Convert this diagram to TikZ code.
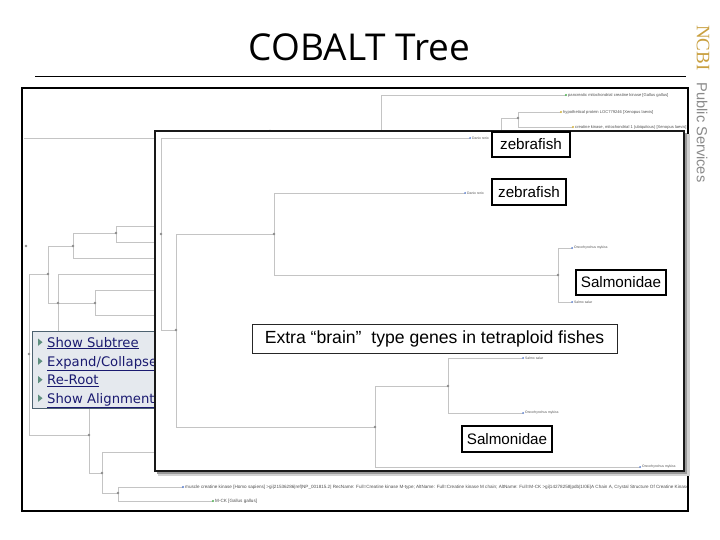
\documentclass[tikz,border=0pt]{standalone}
\usepackage{fontspec}
\setmainfont{Liberation Sans}
\newfontfamily\titlefont{Open Sans}
\newfontfamily\menufont{DejaVu Sans}
\newfontfamily\serifnc{Liberation Serif}
\newfontfamily\arialish{Liberation Sans}
\definecolor{treegray}{HTML}{C4C4C4}
\definecolor{dotgray}{HTML}{8C8C8C}
\definecolor{labgray}{HTML}{505050}
\definecolor{fishblue}{HTML}{5B7FD0}
\definecolor{galgreen}{HTML}{4CAF50}
\definecolor{xenyellow}{HTML}{D4B43C}
\definecolor{menubg}{HTML}{E5E9EE}
\definecolor{menuborder}{HTML}{4D6270}
\definecolor{menublue}{HTML}{1A1A70}
\definecolor{menutri}{HTML}{5F8F7F}
\definecolor{ncbigold}{HTML}{C9A040}
\definecolor{psgray}{HTML}{8A8A8A}
\begin{document}
\begin{tikzpicture}[x=1pt,y=-1pt,
  tline/.style={draw=treegray, line width=0.7pt},
  tnode/.style={circle, fill=dotgray, inner sep=0pt, minimum size=2.6pt},
  leafdot/.style={circle, fill=#1, inner sep=0pt, minimum size=2.4pt},
  leaflab/.style={anchor=west, inner sep=0pt, xshift=2pt, text=labgray, font=\arialish\fontsize{4.1}{5}\selectfont},
  innerlab/.style={anchor=west, inner sep=0pt, xshift=2pt, text=labgray, font=\arialish\fontsize{3.4}{4}\selectfont},
  callout/.style={draw=black, line width=1.6pt, fill=white, inner sep=0pt, align=center, font=\arialish\fontsize{15.2}{17}\selectfont},
  menuitem/.style={anchor=base west, inner sep=0pt, text=menublue, font=\menufont\fontsize{13.2}{15}\selectfont}
]
\useasboundingbox (0,0) rectangle (720,540);
\fill[white] (0,0) rectangle (720,540);

% ---------- title and side banner ----------
\node[inner sep=0pt, font=\titlefont\fontsize{37}{40}\selectfont] (title) at (359.5,47) {COBALT Tree};
\coordinate (ruleL) at (35,77);
\coordinate (ruleR) at (686,77);
\draw[line width=1pt] (ruleL) -- (ruleR);
\node[rotate=-90, anchor=west, inner sep=0pt] (ncbi) at (703,25)
  {{\serifnc\fontsize{19}{21}\selectfont\color{ncbigold}NCBI}\hspace{12pt}{\arialish\fontsize{14.6}{18}\selectfont\color{psgray}Public Services}};

% ---------- background tree (screenshot) ----------
\begin{scope}
\clip (22,88) rectangle (688,511);
% top right part
\coordinate (bT) at (381,200);
\coordinate (g1) at (566,95);
\coordinate (bX0) at (501,200);
\coordinate (bX) at (518,118);
\coordinate (x1) at (561,112);
\coordinate (x2) at (573,127);
\draw[tline] (bT) |- (g1);
\draw[tline] (bX0) |- (bX);
\draw[tline] (bX) |- (x1);
\draw[tline] (bX) |- (x2);
\coordinate (bS0) at (187,131);
\coordinate (bS1) at (270,131);
\draw[tline] (bS0) -- (bS1);
% left part
\coordinate (bH0) at (24,138);
\coordinate (bH1) at (300,138);
\draw[tline] (bH0) -- (bH1);
\coordinate (bR) at (26,246);
\coordinate (A) at (29,354);
\coordinate (B) at (48,274);
\coordinate (C) at (73,246);
\coordinate (D) at (116,233);
\coordinate (E) at (58,303);
\coordinate (F) at (95,303);
\coordinate (G) at (89,435);
\coordinate (H) at (102,473);
\coordinate (I) at (118,493);
\coordinate (d1) at (300,226);
\coordinate (d2) at (300,242);
\coordinate (c2) at (300,258);
\coordinate (e1) at (300,274);
\coordinate (e2) at (300,345);
\coordinate (f1b) at (300,290);
\coordinate (f2b) at (300,315);
\coordinate (g0) at (300,397);
\coordinate (h1) at (300,452);
\coordinate (m1) at (183,487);
\coordinate (m2) at (213,501);
\draw[tline] (A) |- (B);
\draw[tline] (A) |- (G);
\draw[tline] (B) |- (C);
\draw[tline] (B) |- (F);
\draw[tline] (C) |- (D);
\draw[tline] (C) |- (c2);
\draw[tline] (D) |- (d1);
\draw[tline] (D) |- (d2);
\draw[tline] (E) |- (e1);
\draw[tline] (E) |- (e2);
\draw[tline] (F) |- (f1b);
\draw[tline] (F) |- (f2b);
\draw[tline] (G) |- (g0);
\draw[tline] (G) |- (H);
\draw[tline] (H) |- (h1);
\draw[tline] (H) |- (I);
\draw[tline] (I) |- (m1);
\draw[tline] (I) |- (m2);
\foreach \n in {bR,A,B,C,D,E,F,G,H,I,bX,bS1} \node[tnode] (\n dot) at (\n) {};
% leaves
\node[leafdot=galgreen] (g1d) at (g1) {};
\node[leaflab] (g1t) at (g1) {pancreatic mitochondrial creatine kinase [Gallus gallus]};
\node[leafdot=xenyellow] (x1d) at (x1) {};
\node[leaflab] (x1t) at (x1) {hypothetical protein LOC779246 [Xenopus laevis]};
\node[leafdot=xenyellow] (x2d) at (x2) {};
\node[leaflab] (x2t) at (x2) {creatine kinase, mitochondrial 1 (ubiquitous) [Xenopus laevis]};
\node[leaflab, anchor=east, xshift=0pt] (frag1) at (689,160) {ed.};
\node[leaflab, anchor=east, xshift=0pt] (frag2) at (689,209) {eati.};
\node[leafdot=fishblue] (m1d) at (m1) {};
\node[leaflab, font=\arialish\fontsize{4.6}{5}\selectfont] (m1t) at (m1) {muscle creatine kinase [Homo sapiens] >gi|21536286|ref|NP\_001815.2| RecName: Full=Creatine kinase M-type; AltName: Full=Creatine kinase M chain; AltName: Full=M-CK >gi|14278258|pdb|1I0E|A Chain A, Crystal Structure Of Creatine Kinase};
\node[leafdot=galgreen] (m2d) at (m2) {};
\node[leaflab, font=\arialish\fontsize{4.6}{5}\selectfont] (m2t) at (m2) {M-CK [Gallus gallus]};
\end{scope}

% outer frame of the screenshot
\draw[line width=1.3pt] (22,88) rectangle (688,511);

% ---------- context menu ----------
\draw[fill=menubg, draw=menuborder, line width=0.8pt] (32,331) rectangle (175,408);
\foreach \y/\t [count=\k] in {347/{Show Subtree}, 366/{Expand/Collapse}, 384.5/{Re-Root}, 403/{Show Alignment}}{
  \fill[menutri] (38,\y-8.5) -- (42.5,\y-4.8) -- (38,\y-1.1) -- cycle;
  \node[menuitem] (menu\k) at (47,\y) {\underline{\t}};
}

% ---------- popup panel (zoomed subtree) ----------
\fill[black!18] (158,134) rectangle (690,476);
\fill[black!40] (157,133) rectangle (687,474);
\draw[fill=white, draw=black!90, line width=1.4pt] (155,131) rectangle (684,471);

\coordinate (i1) at (161,234);
\coordinate (i2) at (176,330);
\coordinate (i3) at (274,234);
\coordinate (i4) at (375,427);
\coordinate (i5) at (558,275);
\coordinate (i6) at (448,386);
\coordinate (f1) at (470,138);
\coordinate (f2) at (465,193);
\coordinate (f3) at (572,248);
\coordinate (f4) at (572,302);
\coordinate (f5) at (523,358);
\coordinate (f6) at (523,413);
\coordinate (f7) at (640,467);
\draw[tline] (i1) |- (f1);
\draw[tline] (i1) |- (i2);
\draw[tline] (i2) |- (i3);
\draw[tline] (i2) |- (i4);
\draw[tline] (i3) |- (f2);
\draw[tline] (i3) |- (i5);
\draw[tline] (i5) |- (f3);
\draw[tline] (i5) |- (f4);
\draw[tline] (i4) |- (i6);
\draw[tline] (i4) |- (f7);
\draw[tline] (i6) |- (f5);
\draw[tline] (i6) |- (f6);
\foreach \n in {i1,i2,i3,i4,i5,i6} \node[tnode] (\n dot) at (\n) {};
\foreach \n/\t in {f1/Danio rerio, f2/Danio rerio, f3/Oncorhynchus mykiss, f4/Salmo salar, f5/Salmo salar, f6/Oncorhynchus mykiss, f7/Oncorhynchus mykiss}{
  \node[leafdot=fishblue, minimum size=2pt] (\n d) at (\n) {};
  \node[innerlab] (\n t) at (\n) {\t};
}

% ---------- annotation boxes ----------
\node[callout, minimum width=78pt, minimum height=25pt] (zf1) at (531,144.5) {zebrafish};
\node[callout, minimum width=74pt, minimum height=26pt] (zf2) at (529,192) {zebrafish};
\node[callout, minimum width=90pt, minimum height=25pt] (sal1) at (621,282.5) {Salmonidae};
\node[callout, minimum width=90pt, minimum height=26pt] (sal2) at (507,439) {Salmonidae};
\node[callout, line width=0.9pt, draw=black!85, minimum width=365pt, minimum height=29pt,
      font=\arialish\fontsize{17.6}{20}\selectfont] (extra) at (434.5,338.5)
      {Extra “brain”\ \ type genes in tetraploid fishes};
\end{tikzpicture}
\end{document}
